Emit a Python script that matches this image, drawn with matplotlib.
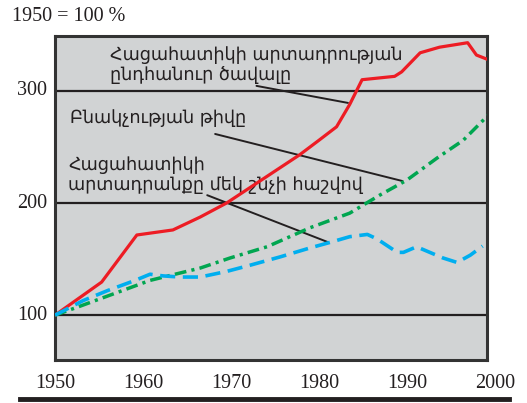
import matplotlib
matplotlib.use("Agg")
import matplotlib.pyplot as plt
from matplotlib.lines import Line2D

# (1950 = 100 %)
grain_years = [1950, 1955.3, 1959.3, 1963.4, 1966.5, 1969.5, 1977.8, 1980, 1982,
               1983.5, 1984.9, 1988.6, 1989.4, 1991.5, 1993.7, 1996.9, 1997.9, 1999.2]
grain_total = [100, 129.5, 171.5, 176, 187.5, 200, 243, 256, 268,
               288, 310, 313, 317, 334, 339, 343, 332, 328]

pop_years = [1950, 1952.5, 1960.8, 1966.5, 1969.9, 1974.1, 1979, 1983.5, 1986.9,
             1990, 1993.4, 1996.4, 1999.2]
population = [100, 107, 131, 142, 151, 161, 178, 191, 207,
              220.5, 240, 256, 278]

pc_years = [1950, 1953.2, 1956, 1959.1, 1960.8, 1962.3, 1964.2, 1966.5, 1969.5,
            1972.2, 1975.6, 1979, 1981.3, 1983.5, 1985.5, 1986.6, 1988.9, 1989.6,
            1991.1, 1992.6, 1994.1, 1995.7, 1997.2, 1998.6]
grain_per_capita = [100, 113, 122, 131, 136.5, 135, 134, 134, 139,
                    144.6, 152, 160, 165, 170, 172, 168, 156, 156,
                    161, 156, 151, 147, 153.5, 161.6]

x_ticks = [1950, 1960, 1970, 1980, 1990, 2000]
y_ticks = [100, 200, 300]

label_total = "Հացահատիկի արտադրության\nընդհանուր ծավալը"
label_pop = "Բնակչության թիվը"
label_pc = "Հացահատիկի\nարտադրանքը մեկ շնչի հաշվով"

serif = ["Liberation Serif", "DejaVu Serif"]
sans = ["DejaVu Sans"]
txt_col = "#231f20"

fig = plt.figure(figsize=(5.27, 4.03), dpi=100)
ax = fig.add_axes([0.1044, 0.1067, 0.8197, 0.804])
ax.set_facecolor("#d1d3d4")
ax.set_xlim(1950, 1999.1)
ax.set_ylim(60, 349)

for v in y_ticks:
    ax.axhline(v, color="#231f20", lw=1.6, zorder=1)

ax.plot(grain_years, grain_total, color="#ed1c24", lw=2.3, zorder=3)
ax.plot(pop_years, population, color="#00a650", lw=2.5, zorder=3,
        dashes=(3.4, 1.5, 0.9, 1.5))
ax.plot(pc_years, grain_per_capita, color="#00aeef", lw=2.6, zorder=3,
        dashes=(4.2, 2.1))

for s in ax.spines.values():
    s.set_linewidth(2.2)
    s.set_color("#333333")
ax.set_xticks([])
ax.set_yticks([])

# tick labels
for v in y_ticks:
    ax.text(-0.018, v, str(v), transform=ax.get_yaxis_transform(),
            ha="right", va="center", fontsize=14.5, family=serif, color=txt_col)
for yr in x_ticks:
    ax.text(yr, -0.072, str(yr), transform=ax.get_xaxis_transform(),
            ha="center", va="center", fontsize=14.5, family=serif,
            color=txt_col, clip_on=False)

fig.text(0.023, 0.958, "1950 = 100 %", ha="left", va="center",
         fontsize=14.5, family=serif, color=txt_col)

# labels with leader lines
lead = dict(arrowstyle="-", color="#231f20", lw=1.4, shrinkA=0, shrinkB=0)
ax.text(1956.2, 323.5, label_total, ha="left", va="center", fontsize=12.7,
        family=sans, color=txt_col, linespacing=1.15, zorder=2)
ax.annotate("", xy=(1983.3, 289.3), xytext=(1972.9, 304.5), arrowprops=lead, zorder=2)

ax.text(1951.7, 276, label_pop, ha="left", va="center", fontsize=12.7,
        family=sans, color=txt_col, zorder=2)
ax.annotate("", xy=(1989.5, 219.6), xytext=(1968.2, 261.6), arrowprops=lead, zorder=2)

ax.text(1951.5, 225.4, label_pc, ha="left", va="center", fontsize=12.7,
        family=sans, color=txt_col, linespacing=1.15, zorder=2)
ax.annotate("", xy=(1981.0, 165.2), xytext=(1967.3, 207), arrowprops=lead, zorder=2)

# thick rule under the chart
fig.add_artist(Line2D([0.038, 0.966], [0.009, 0.009], transform=fig.transFigure,
                      color="#231f20", lw=3.5))

fig.savefig("out.png", dpi=100)
